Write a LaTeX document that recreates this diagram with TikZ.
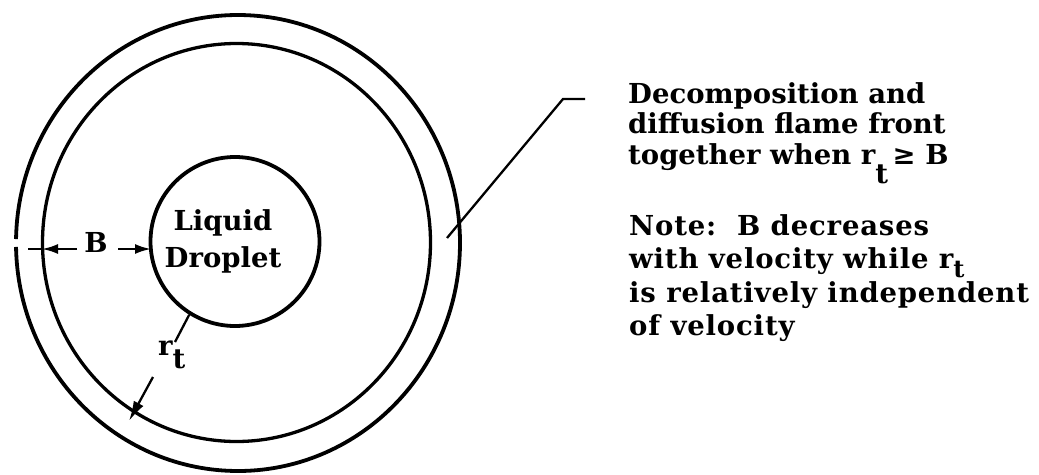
\documentclass[tikz,border=0pt]{standalone}
\usepackage{fontspec}
\setmainfont{DejaVu Serif}
\usetikzlibrary{arrows.meta,shapes.geometric}
\tikzset{
  ring/.style={draw, line width=3.8pt},
  lbl/.style={font=\bfseries\fontsize{27.5}{31}\selectfont, inner sep=0pt},
  leader/.style={line width=2.3pt},
  arr/.style={line width=2.3pt, -{Latex[length=16pt,width=10pt]}},
}
\newcommand\subt{\raisebox{-19pt}[0pt][0pt]{t}}
\newcommand\subtb{\raisebox{-9pt}[0pt][0pt]{\fontsize{24}{24}\selectfont t}}
\begin{document}
\begin{tikzpicture}[x=1pt,y=-1pt]
\useasboundingbox (0,0) rectangle (1039,474);
% outer flame front (with small break at left)
\draw[ring] (238,243) ++(181:222 and 228) arc[start angle=181,end angle=539,x radius=222,y radius=228];
% inner flame front
\node[ellipse, ring, line width=3.3pt, minimum width=388pt, minimum height=398pt, inner sep=0pt] (flame) at (236.5,242.5) {};
% droplet
\node[circle, ring, minimum size=169pt, inner sep=0pt] (drop) at (235,241.5) {};
% multi-line nodes: base anchor is the baseline of the LAST line
\node[lbl, anchor=base, align=center, font=\bfseries\fontsize{27.5}{37}\selectfont] (liq) at (223,267) {Liquid\\Droplet};
% B label and arrows
\node[lbl, anchor=base] (B) at (96,252) {B};
\coordinate (bl) at (77,249);
\coordinate (fl) at (42,249);
\coordinate (flx) at (28,249);
\coordinate (br) at (118,249);
\coordinate (dl) at (151,249);
\draw[arr] (bl) -- (fl);
\draw[leader] (fl) -- (flx);
\draw[arr] (br) -- (dl);
% r_t label
\node[lbl, anchor=base west] (rt) at (158,355) {r\raisebox{-13pt}{t}};
\coordinate (rtl) at (175,342);
\draw[leader] (drop.238) -- (rtl);
\coordinate (ra) at (153,377);
\coordinate (rtip) at (129,421);
\draw[arr, -{Latex[length=20pt,width=11pt]}] (ra) -- (rtip);
% leader to note
\coordinate (ls) at (447,238);
\coordinate (lb) at (563,99);
\coordinate (le) at (585,99);
\draw[leader] (ls) -- (lb) -- (le);
% notes
\node[lbl, anchor=base west, align=left, font=\bfseries\fontsize{27.5}{30.5}\selectfont] (note1) at (628,164)
  {Decomposition and\\diffusion flame front\\together when r\subt\,≥ B};
\node[lbl, anchor=base west, align=left, font=\bfseries\fontsize{27.5}{33.5}\selectfont\addfontfeature{LetterSpace=3}] (note2) at (629,335.5)
  {Note:\ \ B decreases\\with velocity while r\subtb\\is relatively independent\\of velocity};
\end{tikzpicture}
\end{document}
